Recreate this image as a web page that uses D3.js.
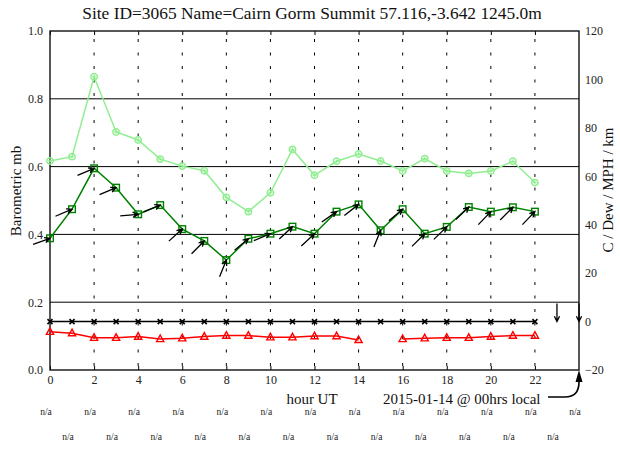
<!DOCTYPE html>
<html>
<head>
<meta charset="utf-8">
<script src="https://cdn.jsdelivr.net/npm/d3@7"></script>
<style>
body { margin: 0; background: #fff; }
svg { display: block; font-family: "Liberation Serif", "DejaVu Serif", serif; }
</style>
</head>
<body>
<svg width="620" height="453"></svg>
<script>
// hourly obs, hour UT 0..22 (right axis)
const hours = d3.range(0, 23);
const visibility = [66.3, 68.1, 101.1, 78.3, 75.0, 67.1, 64.2, 62.3, 51.3, 45.4, 53.2, 71.1,
    60.4, 66.2, 69.2, 66.3, 62.2, 67.3, 62.2, 61.2, 62.2, 66.2, 57.4];
const windSpeed = [34.4, 46.4, 63.3, 55.3, 44.3, 48.1, 38.2, 33.3, 25.4, 34.2, 36.3, 39.2,
    36.3, 45.4, 48.4, 37.7, 46.4, 36.3, 39.1, 47.3, 45.4, 47.2, 45.4];
// wind from (degrees), hours 0..24
const windDir = [250, 247, 247, 247, 265, 248, 228, 225, 202, 230, 247, 227,
    227, 235, 232, 202, 230, 225, 226, 226, 224, 225, 224, 360, 360];
const temperature = [-4.2, -4.8, -6.7, -6.7, -6.2, -7.2, -6.9, -6.2, -5.8, -5.8, -6.5, -6.5,
    -6.0, -6.0, -7.6, null, -7.2, -6.9, -6.7, -6.7, -6.2, -5.8, -5.8];
const dewPoint = [0, 0, 0, 0, 0, 0, 0, 0, 0, 0, 0, 0, 0, 0, 0, 0, 0, 0, 0, 0, 0, 0, 0];
// weather text, hours 0..24
const weather = d3.range(0, 25).map(() => 'n/a');

const leftTicks = [0, 0.2, 0.4, 0.6, 0.8, 1.0];
const rightTicks = [-20, 0, 20, 40, 60, 80, 100, 120];
const hourTicks = d3.range(0, 23, 2);
const gridHours = d3.range(2, 23, 2);

const title = 'Site ID=3065 Name=Cairn Gorm Summit 57.116,-3.642 1245.0m';
const dateLabel = '2015-01-14 @ 00hrs local';

const width = 620;
const height = 453;
const margin = {top: 31, right: 41, bottom: 83, left: 50};

const svg = d3.select('svg');

const x = d3.scaleLinear()
    .domain([0, 24])
    .range([margin.left, width - margin.right]);
const yL = d3.scaleLinear()
    .domain([0, 1])
    .range([height - margin.bottom, margin.top]);
const yR = d3.scaleLinear()
    .domain([-20, 120])
    .range([height - margin.bottom, margin.top]);

const x0 = x.range()[0], x1 = x.range()[1];
const yTop = yL.range()[1], yBot = yL.range()[0];

// horizontal grid (left axis)
svg.append('g')
    .selectAll('line')
    .data(leftTicks.filter(d => d > 0 && d < 1))
    .enter().append('line')
    .attr('x1', x0).attr('x2', x1)
    .attr('y1', d => yL(d)).attr('y2', d => yL(d))
    .attr('stroke', '#000')
    .attr('stroke-width', 1);

// dotted hour grid
svg.append('g')
    .selectAll('line')
    .data(gridHours)
    .enter().append('line')
    .attr('x1', d => x(d)).attr('x2', d => x(d))
    .attr('y1', yTop + 8).attr('y2', yBot)
    .attr('stroke', '#000')
    .attr('stroke-width', 1)
    .attr('stroke-dasharray', '3,10.5');

// axes
const axisLeft = svg.append('g')
    .attr('transform', `translate(${x0},0)`)
    .call(d3.axisLeft(yL).tickValues(leftTicks).tickFormat(d3.format('.1f')).tickSize(0).tickPadding(7));
const axisRight = svg.append('g')
    .attr('transform', `translate(${x1},0)`)
    .call(d3.axisRight(yR).tickValues(rightTicks).tickSize(0).tickPadding(6));
const axisBottom = svg.append('g')
    .attr('transform', `translate(0,${yBot})`)
    .call(d3.axisBottom(x).tickValues(hourTicks).tickSize(-4).tickPadding(5));
const axisTop = svg.append('g')
    .attr('transform', `translate(0,${yTop})`)
    .call(d3.axisTop(x).tickValues(hourTicks).tickSize(-4).tickFormat(''));

[axisLeft, axisRight, axisBottom, axisTop].forEach(g => {
    g.select('.domain').remove();
    g.selectAll('text')
        .attr('font-family', '"Liberation Serif", serif')
        .attr('font-size', 12)
        .attr('fill', '#222');
    g.selectAll('line').attr('stroke', '#000');
});
axisRight.selectAll('text').attr('text-anchor', 'start');

// frame
svg.append('rect')
    .attr('x', x0).attr('y', yTop)
    .attr('width', x1 - x0).attr('height', yBot - yTop)
    .attr('fill', 'none')
    .attr('stroke', '#111')
    .attr('stroke-width', 1.4);

// series lines
const line = (arr) => d3.line()
    .defined((d, i) => arr[i] !== null)
    .x((d, i) => x(hours[i]))
    .y((d, i) => yR(arr[i]))(arr);

const series = [
    {data: visibility, color: '#90ee90', marker: 'circle'},
    {data: windSpeed, color: '#008000', marker: 'square'},
    {data: dewPoint, color: '#000', marker: 'x'},
    {data: temperature, color: '#ff0000', marker: 'triangle'}
];

series.forEach(s => {
    svg.append('path')
        .attr('d', line(s.data))
        .attr('fill', 'none')
        .attr('stroke', s.color)
        .attr('stroke-width', 1.5);

    const pts = svg.append('g')
        .selectAll('g')
        .data(s.data.map((v, i) => ({h: hours[i], v})).filter(d => d.v !== null))
        .enter().append('g')
        .attr('transform', d => `translate(${x(d.h)},${yR(d.v)})`);

    if (s.marker === 'circle') {
        pts.append('circle').attr('r', 3.2)
            .attr('fill', 'none').attr('stroke', s.color).attr('stroke-width', 1.5);
        pts.append('path').attr('d', 'M-2,0H2M0,-2V2')
            .attr('stroke', s.color).attr('stroke-width', 1);
    } else if (s.marker === 'square') {
        pts.append('rect').attr('x', -3.3).attr('y', -3.3).attr('width', 6.6).attr('height', 6.6)
            .attr('fill', 'none').attr('stroke', s.color).attr('stroke-width', 1.4);
    } else if (s.marker === 'x') {
        pts.append('path').attr('d', 'M-2.5,-2.5L2.5,2.5M-2.5,2.5L2.5,-2.5')
            .attr('stroke', s.color).attr('stroke-width', 1.6);
    } else {
        pts.append('path').attr('d', 'M0,-4L3.6,2.6L-3.6,2.6Z')
            .attr('fill', 'none').attr('stroke', s.color).attr('stroke-width', 1.4);
    }
});

// wind arrows, head at the wind speed point
const arrowLen = 18;
const barb = 6;
const arrows = svg.append('g')
    .attr('fill', 'none')
    .attr('stroke', '#000')
    .attr('stroke-width', 1.3);

windDir.forEach((dir, h) => {
    const spd = h < windSpeed.length && windSpeed[h] !== null ? windSpeed[h] : 0;
    const hx = x(h), hy = yR(spd);
    const b = (dir + 180) * Math.PI / 180;
    const ux = Math.sin(b), uy = -Math.cos(b);
    const tx = hx - ux * arrowLen, ty = hy - uy * arrowLen;
    const a = Math.atan2(uy, ux);
    const w1 = a + Math.PI - 0.45, w2 = a + Math.PI + 0.45;
    arrows.append('path')
        .attr('d', `M${tx},${ty}L${hx},${hy}` +
            `M${hx + barb * Math.cos(w1)},${hy + barb * Math.sin(w1)}L${hx},${hy}` +
            `L${hx + barb * Math.cos(w2)},${hy + barb * Math.sin(w2)}`);
});

// texts
svg.append('text')
    .attr('x', 312).attr('y', 19)
    .attr('text-anchor', 'middle')
    .attr('font-size', 17.4)
    .attr('fill', '#111')
    .text(title);

svg.append('text')
    .attr('transform', `translate(21,191) rotate(-90)`)
    .attr('text-anchor', 'middle')
    .attr('font-size', 15)
    .attr('fill', '#111')
    .text('Barometric mb');

svg.append('text')
    .attr('transform', `translate(613,190) rotate(-90)`)
    .attr('text-anchor', 'middle')
    .attr('font-size', 15)
    .attr('fill', '#111')
    .text('C / Dew / MPH / km');

svg.append('text')
    .attr('x', 312).attr('y', 404)
    .attr('text-anchor', 'middle')
    .attr('font-size', 15)
    .attr('fill', '#111')
    .text('hour UT');

svg.append('text')
    .attr('x', 383).attr('y', 404)
    .attr('font-size', 15)
    .attr('fill', '#111')
    .text(dateLabel);

// curved pointer to the right-hand axis corner
svg.append('path')
    .attr('d', `M${x1 - 31},${yBot + 27}L${x1 - 14},${yBot + 27}Q${x1},${yBot + 27} ${x1},${yBot + 12}L${x1},${yBot + 10}`)
    .attr('fill', 'none')
    .attr('stroke', '#000')
    .attr('stroke-width', 1.6);
svg.append('path')
    .attr('d', `M${x1},${yBot}L${x1 + 3.5},${yBot + 12}L${x1 - 3.5},${yBot + 12}Z`)
    .attr('fill', '#000');

// weather text rows: even hours then odd hours
svg.append('g')
    .selectAll('text')
    .data(weather.map((t, h) => ({t, h})))
    .enter().append('text')
    .attr('x', d => x(d.h) - 4)
    .attr('y', d => d.h % 2 === 0 ? 415 : 440)
    .attr('text-anchor', 'middle')
    .attr('font-size', 9.5)
    .attr('fill', '#222')
    .text(d => d.t);
</script>
</body>
</html>
